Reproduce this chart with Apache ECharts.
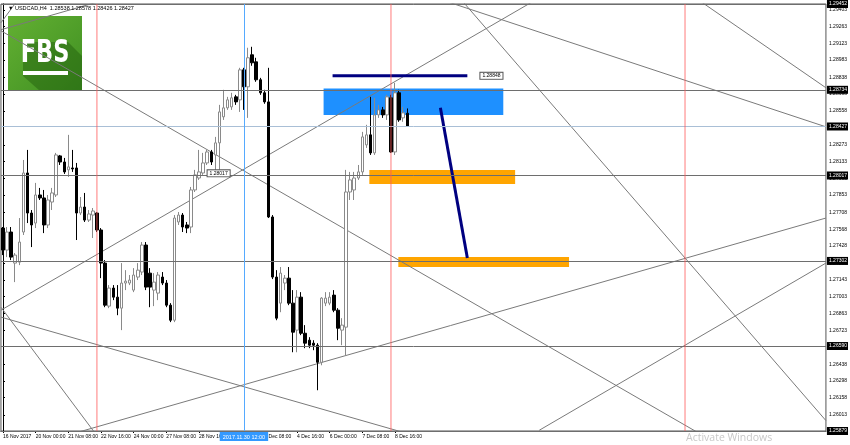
<!DOCTYPE html>
<html><head><meta charset="utf-8">
<script src="https://cdn.jsdelivr.net/npm/echarts@6/dist/echarts.min.js"></script>
<style>html,body{margin:0;padding:0;background:#fff}#c{width:850px;height:445px}</style>
</head><body><div id="c"></div>
<script>
const titleText = '\u25BC USDCAD,H4  1.28538 1.28578 1.28426 1.28427';
const slotCount = 202;
const xTickLabels = ['16 Nov 2017','20 Nov 00:00','21 Nov 08:00','22 Nov 16:00','24 Nov 00:00','27 Nov 08:00','28 Nov 16:00','30 Nov 00:00','1 Dec 08:00','4 Dec 16:00','6 Dec 00:00','7 Dec 08:00','8 Dec 16:00'];
const yTicks = [1.29403,1.29263,1.29123,1.28983,1.28838,1.28698,1.28558,1.28273,1.28133,1.27993,1.27853,1.27708,1.27568,1.27428,1.27283,1.27143,1.27003,1.26863,1.26723,1.26438,1.26298,1.26158,1.26013];

const opens = [
1.27577,1.27393,1.27544,1.27284,1.27292,1.27544,1.28038,1.27703,1.27619,1.27854,
1.27829,1.27603,1.27795,1.27854,1.28181,1.28130,1.28064,1.28080,1.28080,1.27703,
1.27753,1.27644,1.27686,1.27703,1.27561,1.27284,1.26924,1.27075,1.26999,1.26907,
1.27117,1.27117,1.27058,1.27167,1.27209,1.27435,1.27200,1.27058,1.27033,1.27167,
1.27117,1.26932,1.26806,1.27628,1.27686,1.27603,1.27586,1.27896,1.27996,1.28038,
1.28122,1.28214,1.28189,1.28290,1.28508,1.28583,1.28591,1.28675,1.28650,1.28901,
1.28759,1.29027,1.28968,1.28818,1.28709,1.28633,1.27670,1.27167,1.26949,1.27117,
1.27158,1.26949,1.26723,1.26999,1.26697,1.26639,1.26614,1.26597,1.26454,1.26949,
1.26949,1.27016,1.26890,1.26723,1.26748,1.27879,1.27896,1.27996,1.28047,1.28273,
1.28357,1.28206,1.28524,1.28566,1.28524,1.28667,1.28214,1.28709,1.28499,1.28538];
const closes = [
1.27393,1.27544,1.27334,1.27351,1.27460,1.28038,1.27703,1.27603,1.27854,1.27829,
1.27603,1.27812,1.27871,1.28189,1.28130,1.28047,1.28089,1.28072,1.27703,1.27753,
1.27644,1.27695,1.27720,1.27561,1.27284,1.26932,1.27075,1.26999,1.26907,1.27117,
1.27133,1.27142,1.27184,1.27225,1.27435,1.27083,1.27083,1.27125,1.27184,1.27117,
1.26932,1.26806,1.27661,1.27686,1.27586,1.27577,1.27896,1.28022,1.28047,1.28122,
1.28214,1.28130,1.28290,1.28549,1.28583,1.28650,1.28667,1.28633,1.28901,1.28759,
1.29002,1.28960,1.28818,1.28709,1.28633,1.27670,1.27167,1.26823,1.27200,1.27158,
1.26949,1.26706,1.26999,1.26697,1.26614,1.26597,1.26597,1.26454,1.26991,1.26991,
1.26999,1.26890,1.26739,1.26765,1.27879,1.27980,1.27996,1.28047,1.28340,1.28357,
1.28206,1.28524,1.28566,1.28524,1.28675,1.28214,1.28709,1.28482,1.28541,1.28427];
const lows = [
1.27351,1.27334,1.27309,1.27125,1.27267,1.27519,1.27619,1.27418,1.27577,1.27812,
1.27535,1.27577,1.27728,1.27837,1.28105,1.28030,1.28005,1.28047,1.27477,1.27686,
1.27628,1.27628,1.27494,1.27544,1.27158,1.26915,1.26907,1.26974,1.26848,1.26723,
1.27058,1.27100,1.27041,1.27142,1.27184,1.27058,1.26915,1.26924,1.26974,1.27100,
1.26915,1.26790,1.26790,1.27603,1.27544,1.27535,1.27535,1.27879,1.27980,1.28022,
1.28105,1.28105,1.28064,1.28064,1.28482,1.28566,1.28566,1.28608,1.28549,1.28566,
1.28499,1.28935,1.28801,1.28692,1.28617,1.27661,1.27150,1.26806,1.26873,1.27058,
1.26932,1.26538,1.26538,1.26681,1.26572,1.26572,1.26555,1.26220,1.26429,1.26924,
1.26932,1.26873,1.26639,1.26597,1.26513,1.27812,1.27812,1.27980,1.28022,1.28248,
1.28189,1.28189,1.28499,1.28499,1.28482,1.28206,1.28189,1.28466,1.28466,1.28426];
const highs = [
1.27586,1.27586,1.27586,1.27368,1.27661,1.28147,1.28231,1.27728,1.27955,1.27913,
1.27896,1.27854,1.27913,1.28206,1.28189,1.28164,1.28357,1.28231,1.28122,1.27837,
1.27871,1.27728,1.27745,1.27711,1.27577,1.27309,1.27100,1.27100,1.27100,1.27284,
1.27225,1.27184,1.27242,1.27284,1.27460,1.27460,1.27242,1.27200,1.27209,1.27209,
1.27142,1.26949,1.27686,1.27711,1.27703,1.27628,1.27921,1.28064,1.28231,1.28206,
1.28231,1.28231,1.28340,1.28608,1.28734,1.28675,1.28709,1.28692,1.28918,1.28918,
1.29086,1.29094,1.29002,1.28834,1.28734,1.28918,1.27686,1.27225,1.27251,1.27184,
1.27251,1.27058,1.27058,1.27041,1.26765,1.26664,1.26639,1.26614,1.26999,1.27041,
1.27041,1.27058,1.26907,1.26823,1.28064,1.28047,1.28047,1.28105,1.28382,1.28441,
1.28675,1.28667,1.28608,1.28591,1.28692,1.28692,1.28792,1.28734,1.28591,1.28578];

const priceMin = 1.25879;
const priceMax = 1.29452;
const levelLines = [1.29452, 1.28734, 1.28017, 1.27302, 1.26590, 1.25879];
const bidPrice = 1.28427;
const redCycleBars = [23, 95, 167];
const blueCursorBar = 59;
const blueCursorLabel = '2017.11.30 12:00';
// [barStart, priceStart, barEnd, priceEnd]
const trendLines = [
 [-0.5, 1.29228, 201.5, 1.25248],
 [-0.5, 1.26890, 201.5, 1.30896],
 [-0.5, 1.26832, 201.5, 1.24854],
 [-0.5, 1.26915, 48.4, 1.24678],
 [-0.5, 1.25684, 201.5, 1.27661],
 [131.3, 1.25885, 201.5, 1.27284],
 [112.2, 1.29488, 201.5, 1.25966],
 [170.2, 1.29488, 201.5, 1.28751],
 [107.3, 1.29488, 201.5, 1.28424],
 [-0.5, 1.29237, 33.7, 1.29572],
 [-0.5, 1.29295, 4.4, 1.29522]
];
// [barStart, barEnd, priceTop, priceBottom, color]
const zones = [
 [78.5, 122.5, 1.28745, 1.28524, '#1e90ff'],
 [89.7, 125.4, 1.28064, 1.27946, '#ffa500'],
 [96.8, 138.6, 1.27334, 1.27251, '#ffa500']
];
const navyLines = [
 [80.7, 1.28851, 113.7, 1.28851],
 [107.1, 1.28583, 113.7, 1.27326]
];
const priceTags = [
 [52.8, 1.28035, '1.28017'],
 [119.6, 1.28851, '1.28848']
];

const slots = [];
for (let i = 0; i < slotCount; i++) slots.push(String(i));
const candles = opens.map((o, i) => [o, closes[i], lows[i], highs[i]]);

const chart = echarts.init(document.getElementById('c'), null, {renderer: 'canvas'});
const axisFont = 'Liberation Sans';

const series = [];
series.push({
  type: 'custom', xAxisIndex: 1, z: 1, silent: true,
  data: zones.map(z => [z[0], z[1], z[2], z[3]]),
  encode: {x: [0, 1], y: [2, 3]},
  renderItem: function (params, api) {
    const a = api.coord([api.value(0), api.value(2)]);
    const b = api.coord([api.value(1), api.value(3)]);
    return {type: 'rect', shape: {x: a[0], y: a[1], width: b[0] - a[0], height: b[1] - a[1]},
      style: {fill: zones[params.dataIndex][4]}};
  }
});
trendLines.forEach(t => {
  series.push({type: 'line', xAxisIndex: 1, z: 2, silent: true, symbol: 'none', clip: true,
    data: [[t[0], t[1]], [t[2], t[3]]], lineStyle: {color: '#7a7a7a', width: 1}});
});
series.push({
  type: 'candlestick', xAxisIndex: 0, z: 3, barWidth: 3, silent: true,
  data: candles,
  itemStyle: {color: '#ffffff', color0: '#000000', borderColor: '#8a8a8a', borderColor0: '#000000', borderWidth: 1}
});
navyLines.forEach(t => {
  series.push({type: 'line', xAxisIndex: 1, z: 4, silent: true, symbol: 'none',
    data: [[t[0], t[1]], [t[2], t[3]]], lineStyle: {color: '#000080', width: 3}});
});
redCycleBars.forEach(b => {
  series.push({type: 'line', xAxisIndex: 1, z: 6, silent: true, symbol: 'none', clip: true,
    data: [[b, priceMin], [b, priceMax]], lineStyle: {color: '#ff5a5a', width: 1, opacity: 0.8}});
});
const tagLabel = {fontSize: 5, fontFamily: axisFont, color: '#000', backgroundColor: '#fff', borderColor: '#555', borderWidth: 1, padding: [1, 2, 0, 2]};
const blackLabel = {show: true, position: 'end', distance: 1, fontSize: 5, fontFamily: axisFont, color: '#fff', backgroundColor: '#000', padding: [2, 1, 1, 2], formatter: p => Number(p.value).toFixed(5)};
series.push({
  type: 'line', xAxisIndex: 1, z: 5, silent: true, data: [], symbol: 'none',
  markLine: {
    silent: true, symbol: ['none', 'none'], animation: false, precision: 5,
    data: [
      ...levelLines.map(v => ({yAxis: v, lineStyle: {color: '#6e6e6e', width: 1, type: 'solid'}, label: blackLabel})),
      {yAxis: bidPrice, lineStyle: {color: '#a9bfd6', width: 1, type: 'solid'}, label: blackLabel}
    ]
  },
  markPoint: {
    silent: true, symbol: 'rect', symbolSize: [1, 1], itemStyle: {color: 'rgba(0,0,0,0)'},
    data: priceTags.map(t => ({coord: [t[0], t[1]], value: t[2], label: Object.assign({show: true, position: 'inside', formatter: t[2]}, tagLabel)}))
  }
});
series.push({
  type: 'line', xAxisIndex: 1, z: 6, silent: true, data: [], symbol: 'none', color: '#55aaff',
  markLine: {
    silent: true, symbol: ['none', 'none'], animation: false, precision: 2,
    lineStyle: {color: '#55aaff', width: 1, type: 'solid'},
    data: [{xAxis: blueCursorBar,
       label: {show: true, position: 'start', distance: 1, formatter: blueCursorLabel, fontSize: 5.5, fontFamily: axisFont,
         color: '#fff', backgroundColor: '#3399ff', padding: [2, 3, 1, 3]}}]
  }
});

const showTick = idx => idx % 8 === 0 && idx / 8 < xTickLabels.length;

chart.setOption({
  animation: false,
  backgroundColor: '#ffffff',
  grid: {left: 0, right: 24, top: 4, bottom: 14, show: true, borderColor: '#555', borderWidth: 1, backgroundColor: '#fff'},
  title: {text: titleText, left: 3, top: 0, textStyle: {fontSize: 5.5, fontWeight: 'normal', color: '#000', fontFamily: axisFont}},
  xAxis: [
    {type: 'category', data: slots, boundaryGap: true,
     axisLine: {show: true, lineStyle: {color: '#000'}},
     axisTick: {show: true, alignWithLabel: true, length: 2, interval: showTick, lineStyle: {color: '#000'}},
     axisLabel: {interval: showTick, align: 'left', margin: 3, fontSize: 5, fontFamily: axisFont, color: '#000',
       formatter: (v, idx) => xTickLabels[idx / 8] || ''},
     splitLine: {show: false}},
    {type: 'value', min: -0.5, max: slotCount - 0.5, show: false}
  ],
  yAxis: {type: 'value', position: 'right', min: priceMin, max: priceMax, splitLine: {show: false},
    axisLine: {show: true, lineStyle: {color: '#000'}},
    axisTick: {show: true, length: 2, customValues: yTicks, lineStyle: {color: '#000'}},
    axisLabel: {customValues: yTicks, fontSize: 5, fontFamily: axisFont, color: '#000', margin: 3, formatter: v => v.toFixed(5)}},
  series: series,
  graphic: [
    {type: 'group', left: 8, top: 16, z: 50, children: [
      {type: 'rect', shape: {x: 0, y: 0, width: 74, height: 75},
       style: {fill: new echarts.graphic.LinearGradient(0, 0, 1, 1, [{offset: 0, color: '#63b032'}, {offset: 1, color: '#3f8f22'}])}},
      {type: 'polygon', shape: {points: [[15, 26], [60, 26], [74, 40], [74, 75], [32, 75], [15, 60]]}, style: {fill: 'rgba(30,90,10,0.45)'}},
      {type: 'text', style: {text: 'FBS', x: 37, y: 38, align: 'center', verticalAlign: 'middle', fill: '#fff',
        font: 'bold 25px "Liberation Sans Narrow", "DejaVu Sans Condensed", sans-serif'}, scaleY: 1.3, originY: 38},
      {type: 'rect', shape: {x: 15, y: 55, width: 45, height: 4}, style: {fill: '#fff'}}
    ]},
    {type: 'text', left: 686, top: 433, z: 50, style: {text: 'Activate Windows', fill: '#c8c8c8', font: '10.5px "Open Sans", sans-serif'}}
  ]
});
</script></body></html>
